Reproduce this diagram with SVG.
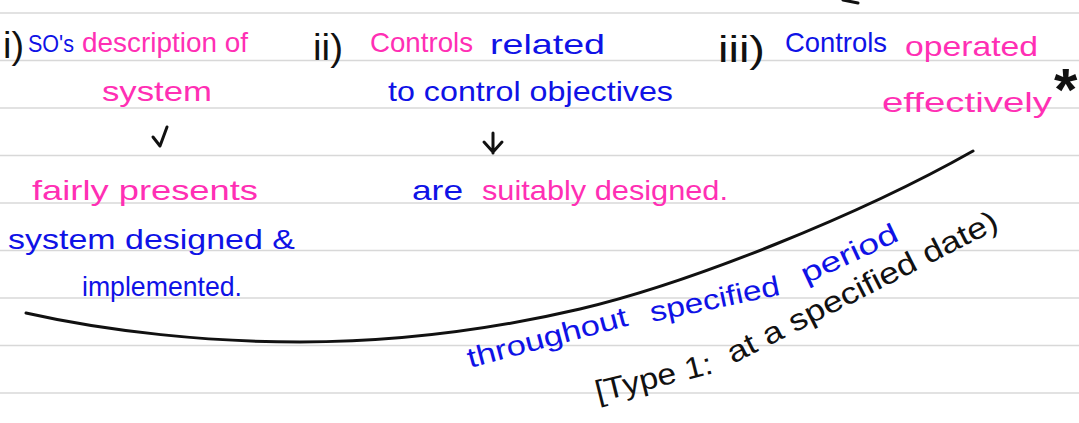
<svg xmlns="http://www.w3.org/2000/svg" width="1079" height="423" viewBox="0 0 1079 423">
<style>
.rule{stroke:#d8d8d8;stroke-width:1.6}
text{font-family:"Liberation Sans","Noto Sans",sans-serif;font-size:28px}
.pk{fill:#ff2fb4}
.bl{fill:#0f12e6}
.bk{fill:#111}
.num{font-size:36px}
.note{font-size:30px}
.ink{fill:none;stroke:#111;stroke-width:3;stroke-linecap:round;stroke-linejoin:round}
</style>
<rect width="1079" height="423" fill="#fff"/>
<g id="rules">
<line class="rule" x1="0" y1="13" x2="1079" y2="13"/>
<line class="rule" x1="0" y1="60.5" x2="1079" y2="60.5"/>
<line class="rule" x1="0" y1="108" x2="1079" y2="108"/>
<line class="rule" x1="0" y1="155.5" x2="1079" y2="155.5"/>
<line class="rule" x1="0" y1="203" x2="1079" y2="203"/>
<line class="rule" x1="0" y1="250.5" x2="1079" y2="250.5"/>
<line class="rule" x1="0" y1="298" x2="1079" y2="298"/>
<line class="rule" x1="0" y1="345.5" x2="1079" y2="345.5"/>
<line class="rule" x1="0" y1="393" x2="1079" y2="393"/>
</g>
<g id="item1">
<text class="bk num" x="3" y="58" textLength="21" lengthAdjust="spacingAndGlyphs">i)</text>
<text class="bl" x="28" y="52" style="font-size:24px" textLength="46" lengthAdjust="spacingAndGlyphs">SO's</text>
<text class="pk" x="82" y="52" textLength="166" lengthAdjust="spacingAndGlyphs">description of</text>
<text class="pk" x="102" y="101" textLength="110" lengthAdjust="spacingAndGlyphs">system</text>
</g>
<g id="result1">
<text class="pk" x="32" y="200" textLength="226" lengthAdjust="spacingAndGlyphs">fairly presents</text>
<text class="bl" x="8" y="249" textLength="287" lengthAdjust="spacingAndGlyphs">system designed &amp;</text>
<text class="bl" x="82" y="296" textLength="160" lengthAdjust="spacingAndGlyphs">implemented.</text>
</g>
<g id="item2">
<text class="bk num" x="313" y="60" textLength="30" lengthAdjust="spacingAndGlyphs">ii)</text>
<text class="pk" x="370" y="52" textLength="103" lengthAdjust="spacingAndGlyphs">Controls</text>
<text class="bl" x="490" y="54" textLength="115" lengthAdjust="spacingAndGlyphs">related</text>
<text class="bl" x="388" y="101" textLength="285" lengthAdjust="spacingAndGlyphs">to control objectives</text>
</g>
<g id="result2">
<text class="bl" x="412" y="200" textLength="51" lengthAdjust="spacingAndGlyphs">are</text>
<text class="pk" x="482" y="200" textLength="246" lengthAdjust="spacingAndGlyphs">suitably designed.</text>
</g>
<g id="item3">
<text class="bk num" x="718" y="62" textLength="47" lengthAdjust="spacingAndGlyphs">iii)</text>
<text class="bl" x="785" y="52" textLength="102" lengthAdjust="spacingAndGlyphs">Controls</text>
<text class="pk" x="905" y="56" textLength="133" lengthAdjust="spacingAndGlyphs">operated</text>
<text class="pk" x="882" y="112" textLength="170" lengthAdjust="spacingAndGlyphs">effectively</text>
<text class="bk" x="1054" y="110" style="font-size:60px;font-weight:bold">*</text>
</g>
<g id="period-note">
<text class="bl" transform="translate(470,368) rotate(-15)" textLength="165" lengthAdjust="spacingAndGlyphs">throughout</text>
<text class="bl" transform="translate(652,322) rotate(-12)" textLength="132" lengthAdjust="spacingAndGlyphs">specified</text>
<text class="bl" transform="translate(806,284) rotate(-25)" textLength="104" lengthAdjust="spacingAndGlyphs">period</text>
</g>
<g id="type1-note">
<text class="bk note" transform="translate(598,402) rotate(-14)" textLength="120" lengthAdjust="spacingAndGlyphs">[Type 1:</text>
<text class="bk note" transform="translate(733,364) rotate(-27)" textLength="300" lengthAdjust="spacingAndGlyphs">at a specified date)</text>
</g>
<g id="connectors">
<path class="ink" d="M167,127 L160,146 M153,137 L160,146"/>
<path class="ink" d="M493,133 L493,153 M484,142 L493,152 L502,142"/>
<path class="ink" d="M26,313 C110,332 210,342 300,342 C400,342 490,330 580,309 C690,283 860,215 973,151"/>
<path class="ink" d="M843,0 L858,3"/>
</g>
</svg>
